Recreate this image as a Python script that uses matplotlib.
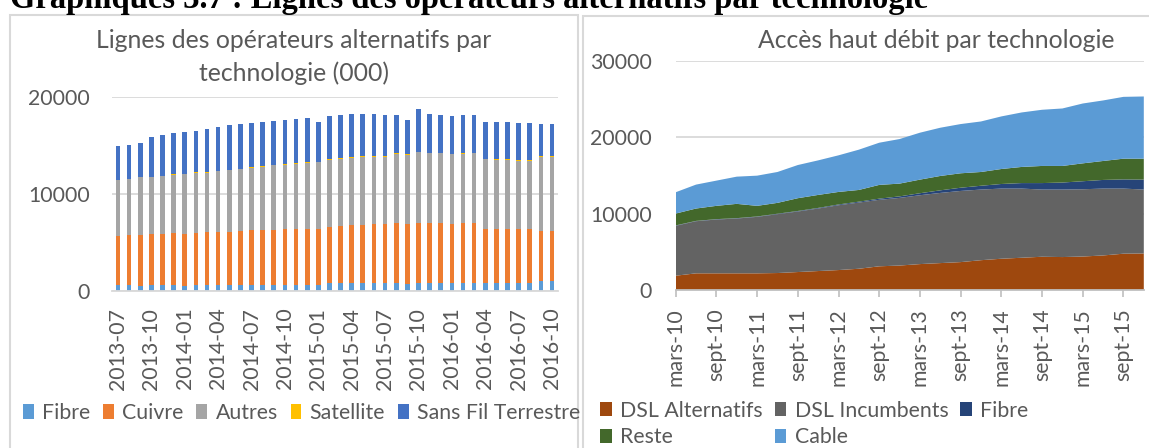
import numpy as np
import pandas as pd
import matplotlib
matplotlib.use('Agg')
import matplotlib.pyplot as plt
from matplotlib.patches import Rectangle

plt.rcParams['font.family'] = ['Lato', 'DejaVu Sans']

# --- lignes des opérateurs alternatifs (milliers), mensuel 2013-07 .. 2016-10
mois = list(pd.period_range('2013-07', '2016-10', freq='M').strftime('%Y-%m'))
fibre_alt = [580, 580, 560, 600, 590, 610, 560, 610, 590, 600, 620, 620, 620, 620,
             630, 630, 640, 640, 630, 780, 790, 790, 800, 810, 820, 830, 690, 860,
             860, 860, 860, 860, 870, 870, 870, 870, 870, 870, 1050, 1050]
cuivre = [5100, 5200, 5190, 5290, 5310, 5350, 5340, 5400, 5470, 5460, 5500, 5540,
          5640, 5640, 5670, 5720, 5780, 5790, 5800, 5860, 5950, 6020, 6050, 6140,
          6130, 6190, 6190, 6190, 6160, 6120, 6090, 6160, 6150, 5560, 5560, 5560,
          5490, 5560, 5140, 5140]
autres = [5750, 5760, 5980, 5870, 5960, 6040, 6120, 6170, 6150, 6260, 6340, 6400,
          6470, 6540, 6640, 6670, 6710, 6780, 6850, 6910, 6880, 6950, 6980, 6880,
          6910, 7150, 7190, 7260, 7190, 7230, 7150, 7150, 7190, 7160, 7120, 7090,
          7090, 7020, 7640, 7640]
satellite = [40] * 40
sans_fil = [3430, 3490, 3500, 4100, 4160, 4300, 4300, 4320, 4500, 4520, 4590, 4600,
            4560, 4630, 4560, 4570, 4570, 4570, 4090, 4470, 4510, 4460, 4390, 4400,
            4270, 3980, 3560, 4450, 3950, 3940, 3940, 3890, 3850, 3830, 3820, 3820,
            3820, 3810, 3370, 3300]

# --- accès haut débit par technologie, trimestriel mars-10 .. déc-15
trimestres = [m + '-' + str(a) for a in range(10, 16) for m in ['mars', 'juin', 'sept', 'déc']]
dsl_alt = [1870, 2180, 2180, 2180, 2180, 2220, 2350, 2480, 2610, 2780, 3100, 3200,
           3390, 3520, 3650, 3900, 4090, 4220, 4350, 4310, 4380, 4520, 4750, 4780]
dsl_inc = [6530, 6820, 7040, 7170, 7390, 7700, 7920, 8180, 8480, 8660, 8700, 8850,
           9010, 9180, 9310, 9240, 9180, 9050, 8790, 8830, 8800, 8750, 8520, 8360]
fibre_hd = [50, 40, 50, 50, 50, 60, 70, 80, 100, 120, 150, 200, 260, 340, 420, 500,
            600, 720, 850, 920, 1050, 1130, 1200, 1300]
reste = [1550, 1620, 1740, 1870, 1390, 1420, 1670, 1700, 1640, 1530, 1800, 1670,
         1780, 1880, 1890, 1800, 1960, 2110, 2240, 2170, 2340, 2480, 2710, 2740]
cable = [2790, 3130, 3300, 3560, 3950, 4040, 4340, 4520, 4790, 5270, 5520, 5830,
         6140, 6310, 6440, 6610, 6880, 7130, 7350, 7520, 7830, 7920, 8090, 8140]

W, H = 1149, 448
TXT = '#595959'
GRID = '#D9D9D9'
FS = 15.3      # ticks and legends
FT = 17.8      # chart titles

fig = plt.figure(figsize=(W / 100, H / 100), dpi=100)


def axes_px(left, top, right, bottom):
    return fig.add_axes([left / W, 1 - bottom / H, (right - left) / W, (bottom - top) / H])


# chart frames
fig.add_artist(Rectangle((10 / W, 1 - 470 / H), 568 / W, 455 / H, transform=fig.transFigure,
                         fill=False, edgecolor=GRID, lw=1.5))
fig.add_artist(Rectangle((583 / W, 1 - 470 / H), 700 / W, 454 / H, transform=fig.transFigure,
                         fill=False, edgecolor=GRID, lw=1.5))

fig.text(10 / W, 1 - 8 / H, "Graphiques 3.7 : Lignes des opérateurs alternatifs par technologie",
         family='Liberation Serif', weight='bold', fontsize=23.5, va='baseline', ha='left')

# ---------------- left: stacked bars
ax1 = axes_px(112.4, 97, 557.6, 291)
x = np.arange(len(mois))
bottom = np.zeros(len(mois))
series1 = [(fibre_alt, '#5B9BD5', 'Fibre'), (cuivre, '#ED7D31', 'Cuivre'),
           (autres, '#A5A5A5', 'Autres'), (satellite, '#FFC000', 'Satellite'),
           (sans_fil, '#4472C4', 'Sans Fil Terrestre')]
for vals, col, name in series1:
    ax1.bar(x, vals, width=0.42, bottom=bottom, color=col, label=name, linewidth=0)
    bottom += np.array(vals)

ax1.set_xlim(-0.5, len(mois) - 0.5)
ax1.set_ylim(0, 20000)
ax1.set_yticks([0, 10000, 20000])
ax1.set_xticks(x[::3])
ax1.set_xticklabels(mois[::3], rotation=90)
ax1.yaxis.grid(True, color=GRID, lw=1.3)
ax1.set_axisbelow(True)
for s in ['top', 'left', 'right']:
    ax1.spines[s].set_visible(False)
ax1.spines['bottom'].set_color(GRID)
ax1.spines['bottom'].set_linewidth(1.3)
ax1.tick_params(axis='y', length=0, pad=16, labelcolor=TXT, labelsize=FS)
ax1.tick_params(axis='x', length=0, pad=12, labelcolor=TXT, labelsize=FS)

fig.text(294 / W, 1 - 40 / H, "Lignes des opérateurs alternatifs par", ha='center', va='center',
         fontsize=FT, color=TXT)
fig.text(294 / W, 1 - 73 / H, "technologie (000)", ha='center', va='center',
         fontsize=FT, color=TXT)

h1, l1 = ax1.get_legend_handles_labels()
fig.legend(h1, l1, loc='center left', bbox_to_anchor=(23 / W, 1 - 413 / H), ncol=5,
           frameon=False, fontsize=FS, labelcolor=TXT, handlelength=0.5, handleheight=0.65,
           handletextpad=0.4, columnspacing=0.6, borderpad=0, borderaxespad=0)

# ---------------- right: stacked areas
ax2 = axes_px(675.7, 60.7, 1143.8, 290)
q = np.arange(len(trimestres))
ax2.stackplot(q, dsl_alt, dsl_inc, fibre_hd, reste, cable,
              colors=['#9E480E', '#636363', '#264478', '#43682B', '#5B9BD5'],
              labels=['DSL Alternatifs', 'DSL Incumbents', 'Fibre', 'Reste', 'Cable'])
ax2.set_xlim(0, len(trimestres) - 1)
ax2.set_ylim(0, 30000)
ax2.set_yticks([0, 10000, 20000, 30000])
ax2.set_xticks(q[::2])
ax2.set_xticklabels(trimestres[::2], rotation=90)
ax2.yaxis.grid(True, color=GRID, lw=1.3)
ax2.set_axisbelow(True)
for s in ['top', 'left', 'right']:
    ax2.spines[s].set_visible(False)
ax2.spines['bottom'].set_color('#BFBFBF')
ax2.spines['bottom'].set_linewidth(1.3)
ax2.tick_params(axis='y', length=0, pad=17, labelcolor=TXT, labelsize=FS)
ax2.tick_params(axis='x', length=5, width=1.2, color='#BFBFBF', pad=8,
                labelcolor=TXT, labelsize=FS)

fig.text(936 / W, 1 - 40 / H, "Accès haut débit par technologie", ha='center', va='center',
         fontsize=FT, color=TXT)

h2, l2 = ax2.get_legend_handles_labels()
order = [0, 3, 1, 4, 2]
fig.legend([h2[i] for i in order], [l2[i] for i in order], loc='center left',
           bbox_to_anchor=(600 / W, 1 - 424 / H), ncol=3, frameon=False, fontsize=FS,
           labelcolor=TXT, handlelength=0.55, handleheight=0.65, handletextpad=0.4,
           columnspacing=0.55, labelspacing=0.3, borderpad=0, borderaxespad=0)

fig.savefig('out.png', dpi=100)
